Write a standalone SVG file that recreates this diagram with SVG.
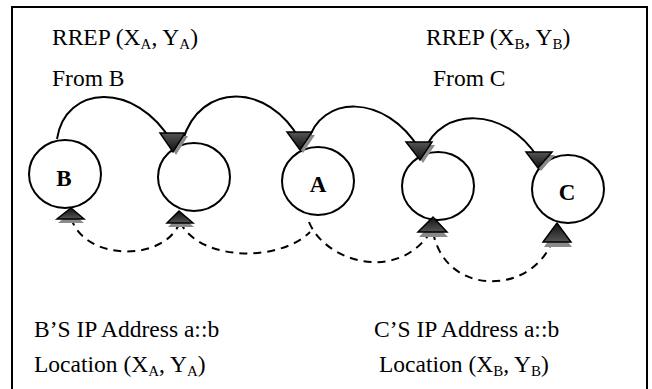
<svg xmlns="http://www.w3.org/2000/svg" width="652" height="389" viewBox="0 0 652 389">
  <defs>
    <linearGradient id="headFill" x1="0" y1="0" x2="0" y2="1">
      <stop offset="0" stop-color="#555"/>
      <stop offset="1" stop-color="#111"/>
    </linearGradient>
    <linearGradient id="headFillUp" x1="0" y1="1" x2="0" y2="0">
      <stop offset="0" stop-color="#555"/>
      <stop offset="1" stop-color="#111"/>
    </linearGradient>
  </defs>
  <style>
    .frame { fill: #fff; stroke: #000; stroke-width: 2; }
    .node { fill: #fff; stroke: #000; stroke-width: 2; }
    .hop { fill: none; stroke: #000; stroke-width: 2; }
    .reply { fill: none; stroke: #000; stroke-width: 2; stroke-dasharray: 8 6; }
    .shadow { fill: #8a8a8a; stroke: none; }
    .head { fill: url(#headFill); stroke: #000; stroke-width: 1.5; stroke-linejoin: miter; }
    .headUp { fill: url(#headFillUp); stroke: #000; stroke-width: 1.5; stroke-linejoin: miter; }
    .lbl { font-family: "Liberation Serif", "Times New Roman", serif; font-size: 23.5px; fill: #000; }
    .sub { font-size: 15px; }
    .name { font-family: "Liberation Serif", "Times New Roman", serif; font-size: 23px; font-weight: bold; fill: #000; text-anchor: middle; }
  </style>

  <rect class="frame" x="12" y="7" width="635" height="392"/>

  <!-- labels -->
  <text class="lbl" x="52" y="45">RREP (X<tspan class="sub" dy="4">A</tspan><tspan dy="-4">, Y</tspan><tspan class="sub" dy="4">A</tspan><tspan dy="-4">)</tspan></text>
  <text class="lbl" x="52" y="86">From B</text>
  <text class="lbl" x="426" y="45">RREP (X<tspan class="sub" dy="4">B</tspan><tspan dy="-4">, Y</tspan><tspan class="sub" dy="4">B</tspan><tspan dy="-4">)</tspan></text>
  <text class="lbl" x="433" y="86">From C</text>
  <text class="lbl" x="34" y="337">B’S IP Address a::b</text>
  <text class="lbl" x="34" y="372">Location (X<tspan class="sub" dy="4">A</tspan><tspan dy="-4">, Y</tspan><tspan class="sub" dy="4">A</tspan><tspan dy="-4">)</tspan></text>
  <text class="lbl" x="374" y="337">C’S IP Address a::b</text>
  <text class="lbl" x="379" y="372">Location (X<tspan class="sub" dy="4">B</tspan><tspan dy="-4">, Y</tspan><tspan class="sub" dy="4">B</tspan><tspan dy="-4">)</tspan></text>

  <!-- nodes -->
  <g id="node-B">
    <ellipse class="node" cx="65" cy="174" rx="36" ry="34"/>
    <text class="name" x="64" y="186">B</text>
  </g>
  <g id="node-2">
    <ellipse class="node" cx="194" cy="177" rx="36" ry="34"/>
  </g>
  <g id="node-A">
    <ellipse class="node" cx="318" cy="181" rx="36" ry="34"/>
    <text class="name" x="318" y="192">A</text>
  </g>
  <g id="node-4">
    <ellipse class="node" cx="438" cy="186" rx="36" ry="34"/>
  </g>
  <g id="node-C">
    <ellipse class="node" cx="568" cy="189" rx="36" ry="34"/>
    <text class="name" x="567" y="200">C</text>
  </g>

  <!-- connectors -->
  <g id="connectors">
    <!-- forward hops (solid) -->
    <path class="hop" d="M 57 139 C 65 85, 135 80, 172 142"/>
    <path class="hop" d="M 183 140 C 200 82, 268 82, 300 140"/>
    <path class="hop" d="M 308 142 C 320 95, 385 92, 420 150"/>
    <path class="hop" d="M 425 150 C 440 108, 505 105, 538 158"/>

    <!-- replies (dashed) -->
    <path class="reply" d="M 71 218 C 85 262, 165 262, 180 222"/>
    <path class="reply" d="M 180 222 C 200 262, 280 262, 310 232"/>
    <path class="reply" d="M 309 222 C 325 262, 400 285, 433 228"/>
    <path class="reply" d="M 433 232 C 445 296, 530 296, 552 242"/>

    <!-- downward heads on the solid hops -->
    <polygon class="shadow" points="164,136 188,136 176,155"/>
    <polygon class="head" points="160,133 185,133 173,152"/>
    <polygon class="shadow" points="291,135 315,135 303,153"/>
    <polygon class="head" points="287,132 312,132 300,150"/>
    <polygon class="shadow" points="410,145 435,145 423,163"/>
    <polygon class="head" points="406,142 432,142 420,160"/>
    <polygon class="shadow" points="530,155 555,155 541,171"/>
    <polygon class="head" points="526,152 552,152 538,168"/>

    <!-- upward heads on the dashed replies -->
    <polygon class="shadow" points="58,223 84,223 71,212"/>
    <polygon class="headUp" points="57,219 84,219 71,208"/>
    <polygon class="shadow" points="168,227 194,227 180,215"/>
    <polygon class="headUp" points="167,223 193,223 179,211"/>
    <polygon class="shadow" points="419,237 448,237 433,222"/>
    <polygon class="headUp" points="418,232 447,232 433,217"/>
    <polygon class="shadow" points="544,247 572,247 557,228"/>
    <polygon class="headUp" points="543,242 571,242 557,223"/>
  </g>
</svg>
